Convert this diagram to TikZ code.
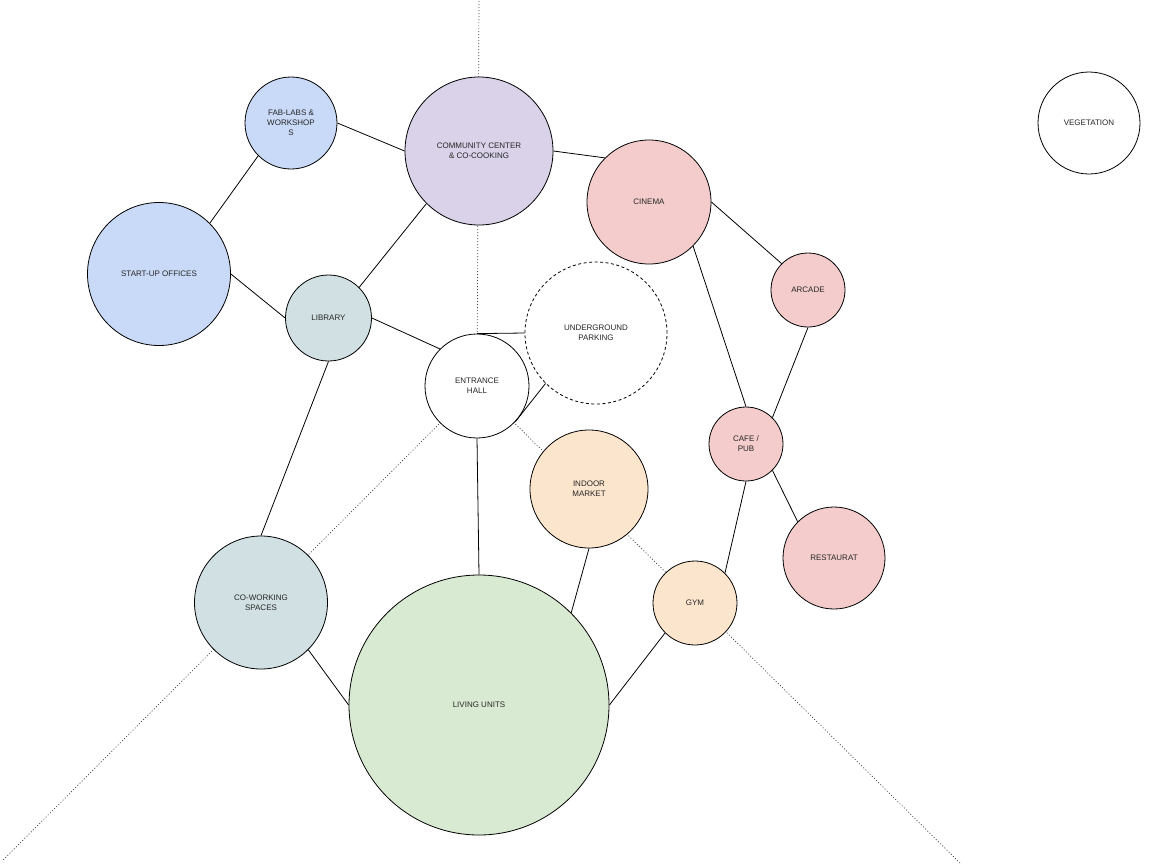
\documentclass[tikz,border=0pt]{standalone}
\usepackage{fontspec}
\setmainfont{Liberation Sans}
\definecolor{fabblue}{HTML}{C9DAF8}
\definecolor{commpurple}{HTML}{D9D2E9}
\definecolor{cinred}{HTML}{F4CCCC}
\definecolor{libcyan}{HTML}{D0E0E3}
\definecolor{livgreen}{HTML}{D9EAD3}
\definecolor{mktorange}{HTML}{FCE5CD}

\begin{document}
\begin{tikzpicture}[x=1pt,y=-1pt,
    bubble/.style={draw,circle,line width=.8pt,fill=white,inner sep=0pt,align=center,
      text=black!85,font=\fontsize{8}{10}\selectfont},
    link/.style={line width=.8pt},
    axis/.style={line width=.7pt,black!75,dash pattern=on 1pt off 2pt}]
  \useasboundingbox (0,0) rectangle (1170,863);
   \coordinate (Top) at (479,0);
   \coordinate (LeftEnd) at (2,861);
   \coordinate (RightEnd) at (960,863);
   \coordinate (Hall) at (477,386);
%  dotted axes first, the bubbles cover them
  \draw[axis] (Hall) -- (Top);
  \draw[axis] (Hall) -- (LeftEnd);
  \draw[axis] (Hall) -- (RightEnd);
  \node[bubble,fill=fabblue,minimum size=92pt] (fab) at (291,123) {FAB-LABS \&\\WORKSHOP\\S};
  \node[bubble,fill=commpurple,minimum size=148pt] (comm) at (479,151) {COMMUNITY CENTER\\\& CO-COOKING};
  \node[bubble,fill=cinred,minimum size=124pt] (cinema) at (649,202) {CINEMA};
  \node[bubble,minimum size=102pt] (veg) at (1089,123) {VEGETATION};
  \node[bubble,fill=fabblue,minimum size=143pt] (startup) at (159,274) {START-UP OFFICES};
  \node[bubble,fill=libcyan,minimum size=86pt] (library) at (328.5,318) {LIBRARY};
  \node[bubble,fill=cinred,minimum size=74pt] (arcade) at (808,290) {ARCADE};
  \node[bubble,dash pattern=on 3pt off 2.5pt,minimum size=142pt] (parking) at (596,333) {UNDERGROUND\\PARKING};
  \node[bubble,minimum size=104pt] (hall) at (Hall) {ENTRANCE\\HALL};
  \node[bubble,fill=cinred,minimum size=74pt] (cafe) at (746,444) {CAFE /\\PUB};
  \node[bubble,fill=mktorange,minimum size=118pt] (market) at (589,489) {INDOOR\\MARKET};
  \node[bubble,fill=cinred,minimum size=102pt] (rest) at (834,558) {RESTAURAT};
  \node[bubble,fill=mktorange,minimum size=84pt] (gym) at (695,603) {GYM};
  \node[bubble,fill=libcyan,minimum size=133pt] (cowork) at (261,602.5) {CO-WORKING\\SPACES};
  \node[bubble,fill=livgreen,minimum size=260pt] (living) at (479,705) {LIVING UNITS};
% links between the spaces
  \draw[link] (fab.east) -- (comm.west);
  \draw[link] (startup.45) -- (fab.-135);
  \draw[link] (comm.east) -- (cinema.135);
  \draw[link] (comm.-135) -- (library.45);
  \draw[link] (startup.east) -- (library.west);
  \draw[link] (library.east) -- (hall.135);
  \draw[link] (library.south) -- (cowork.north);
  \draw[link] (hall.north) -- (parking.west);
  \draw[link] (hall.-43) -- (parking.225);
  \draw[link] (hall.south) -- (living.north);
  \draw[link] (market.south) -- (living.45);
  \draw[link] (gym.-135) -- (living.east);
  \draw[link] (cowork.-45) -- (living.west);
  \draw[link] (cinema.east) -- (arcade.135);
  \draw[link] (cinema.-45) -- (cafe.north);
  \draw[link] (arcade.south) -- (cafe.45);
  \draw[link] (cafe.-45) -- (rest.135);
  \draw[link] (cafe.south) -- (gym.45);
 \end{tikzpicture}
\end{document}
